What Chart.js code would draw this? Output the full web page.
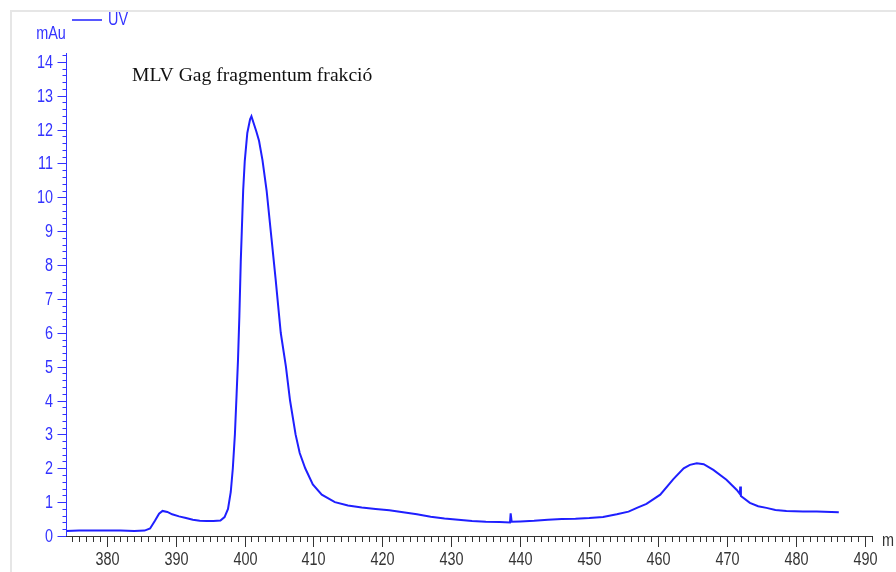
<!DOCTYPE html>
<html>
<head>
<meta charset="utf-8">
<script src="https://cdn.jsdelivr.net/npm/chart.js@4.4.0/dist/chart.umd.min.js"></script>
<style>
    html, body { margin: 0; padding: 0; background: #fff; }
    #wrap { width: 896px; height: 572px; position: relative; }
</style>
</head>
<body>
<div id="wrap"><canvas id="uvChart" width="896" height="572"></canvas></div>
<script>
const volumes = [374.1, 376, 378, 380, 382, 384, 385.5, 386.3, 387.0, 387.6, 388.1, 388.8, 389.5, 390.5, 391.5, 392.5, 393.5, 394.5, 395.5, 396.5,
    397.1, 397.6, 398.0, 398.3, 398.6, 398.85, 399.05, 399.25, 399.45, 399.6, 399.8, 400.03, 400.4, 400.8, 401.0, 401.3, 401.7, 402.1, 402.6, 403.2,
    403.9, 404.5, 405.25, 406.0, 406.6, 407.4, 408.0, 408.8, 409.9, 411.2, 413.1, 415, 417, 419, 421, 423, 425, 427, 429, 431,
    433, 435, 437, 438.5, 438.6, 438.75, 440, 442, 444, 446, 448, 450, 452, 454, 455.7, 457, 458.3, 460.3, 462.2, 463.7,
    464.6, 465.6, 466.6, 468, 469.9, 471.4, 471.85, 471.9, 472.0, 473.3, 474.5, 475.7, 477, 478.6, 481, 483, 486.2];
const uvAbsorbance = [0.15, 0.16, 0.16, 0.16, 0.16, 0.15, 0.16, 0.22, 0.45, 0.66, 0.74, 0.71, 0.64, 0.58, 0.53, 0.48, 0.45, 0.44, 0.44, 0.46,
    0.56, 0.8, 1.3, 2.0, 3.0, 4.2, 5.2, 6.5, 8.1, 9.0, 10.2, 11.07, 11.9, 12.3, 12.39, 12.2, 11.95, 11.67, 11.1, 10.2,
    8.8, 7.6, 6.0, 5.0, 4.0, 3.0, 2.45, 2.0, 1.52, 1.22, 1.0, 0.9, 0.84, 0.8, 0.76, 0.7, 0.64, 0.57, 0.52, 0.48,
    0.44, 0.42, 0.41, 0.40, 0.67, 0.42, 0.43, 0.45, 0.48, 0.5, 0.51, 0.53, 0.56, 0.64, 0.72, 0.84, 0.95, 1.22, 1.68, 2.0,
    2.1, 2.15, 2.12, 1.95, 1.66, 1.36, 1.24, 1.46, 1.18, 0.98, 0.88, 0.83, 0.77, 0.74, 0.72, 0.72, 0.70];
const xTickLabels = [380, 390, 400, 410, 420, 430, 440, 450, 460, 470, 480, 490];
const yTickLabels = [0, 1, 2, 3, 4, 5, 6, 7, 8, 9, 10, 11, 12, 13, 14];

const seriesName = 'UV';
const yUnit = 'mAu';
const xUnit = 'm';
const chartTitle = 'MLV Gag fragmentum frakció';

const blue = '#3333ff';
const lineBlue = '#1f1fff';
const dark = '#333333';
const labelFont = "18px 'Liberation Sans', Arial, sans-serif";

function isMajor(v, list) {
    return list.some(t => Math.abs(v - t) < 1e-6);
}

// the original uses a narrow sans face, so squeeze Liberation Sans a bit
function narrowText(ctx, text, x, y, align) {
    ctx.save();
    ctx.translate(x, y);
    ctx.scale(0.8, 1);
    ctx.textAlign = align;
    ctx.fillText(text, 0, 0);
    ctx.restore();
}

const axisDecor = {
    id: 'axisDecor',
    beforeDraw(chart) {
        const ctx = chart.ctx;
        ctx.save();
        ctx.fillStyle = '#fff';
        ctx.fillRect(0, 0, chart.width, chart.height);
        ctx.strokeStyle = '#e6e6e6';
        ctx.lineWidth = 2;
        ctx.beginPath();
        ctx.moveTo(11, chart.height);
        ctx.lineTo(11, 11);
        ctx.lineTo(chart.width, 11);
        ctx.stroke();
        ctx.restore();
    },
    afterDraw(chart) {
        const ctx = chart.ctx;
        const a = chart.chartArea;
        const x = chart.scales.x;
        const y = chart.scales.y;
        ctx.save();
        ctx.font = labelFont;
        ctx.textBaseline = 'middle';

        // y axis
        ctx.strokeStyle = blue;
        ctx.fillStyle = blue;
        ctx.lineWidth = 1;
        ctx.beginPath();
        ctx.moveTo(a.left + 0.5, a.top);
        ctx.lineTo(a.left + 0.5, a.bottom);
        y.ticks.forEach(t => {
            const py = Math.round(y.getPixelForValue(t.value)) + 0.5;
            const major = isMajor(t.value, yTickLabels);
            ctx.moveTo(a.left + 0.5, py);
            ctx.lineTo(a.left + 0.5 - (major ? 9 : 4), py);
            if (major) narrowText(ctx, String(Math.round(t.value)), 53, py + 1, 'right');
        });
        ctx.stroke();

        // x axis
        ctx.strokeStyle = dark;
        ctx.fillStyle = dark;
        ctx.beginPath();
        ctx.moveTo(a.left, a.bottom + 0.5);
        ctx.lineTo(a.right, a.bottom + 0.5);
        x.ticks.forEach(t => {
            const px = Math.round(x.getPixelForValue(t.value)) + 0.5;
            const major = isMajor(t.value, xTickLabels);
            ctx.moveTo(px, a.bottom);
            ctx.lineTo(px, a.bottom + (major ? 11 : 6));
            if (major) narrowText(ctx, String(Math.round(t.value)), px, 560, 'center');
        });
        ctx.stroke();
        narrowText(ctx, xUnit, 882, 541, 'left');

        // unit and legend
        ctx.fillStyle = blue;
        narrowText(ctx, yUnit, 51, 34, 'center');
        narrowText(ctx, seriesName, 108, 20, 'left');
        ctx.strokeStyle = lineBlue;
        ctx.lineWidth = 1.5;
        ctx.beginPath();
        ctx.moveTo(72, 20);
        ctx.lineTo(102, 20);
        ctx.stroke();

        ctx.fillStyle = '#111';
        ctx.textBaseline = 'alphabetic';
        ctx.textAlign = 'left';
        ctx.font = '19.6px "Liberation Serif", "Times New Roman", serif';
        ctx.fillText(chartTitle, 132, 81);
        ctx.restore();
    }
};

const ctx = document.getElementById('uvChart').getContext('2d');
const uvChart = new Chart(ctx, {
    type: 'line',
    data: {
        datasets: [{
            label: seriesName,
            data: volumes.map((v, i) => ({ x: v, y: uvAbsorbance[i] })),
            borderColor: lineBlue,
            borderWidth: 2,
            pointRadius: 0,
            tension: 0,
            fill: false
        }]
    },
    options: {
        responsive: false,
        animation: false,
        layout: { padding: { top: 53, right: 23, left: 0, bottom: 0 } },
        plugins: {
            legend: { display: false },
            title: { display: false },
            tooltip: { enabled: false }
        },
        scales: {
            x: {
                type: 'linear',
                min: 374.1,
                max: 491.16,
                grid: { display: false, drawTicks: false },
                border: { display: false },
                ticks: { display: false, stepSize: 1, autoSkip: false, includeBounds: false },
                afterFit: scale => { scale.height = 36; }
            },
            y: {
                min: 0,
                max: 14.26,
                grid: { display: false, drawTicks: false },
                border: { display: false },
                ticks: { display: false, stepSize: 0.2, autoSkip: false, includeBounds: false },
                afterFit: scale => { scale.width = 66; }
            }
        }
    },
    plugins: [axisDecor]
});
</script>
</body>
</html>
